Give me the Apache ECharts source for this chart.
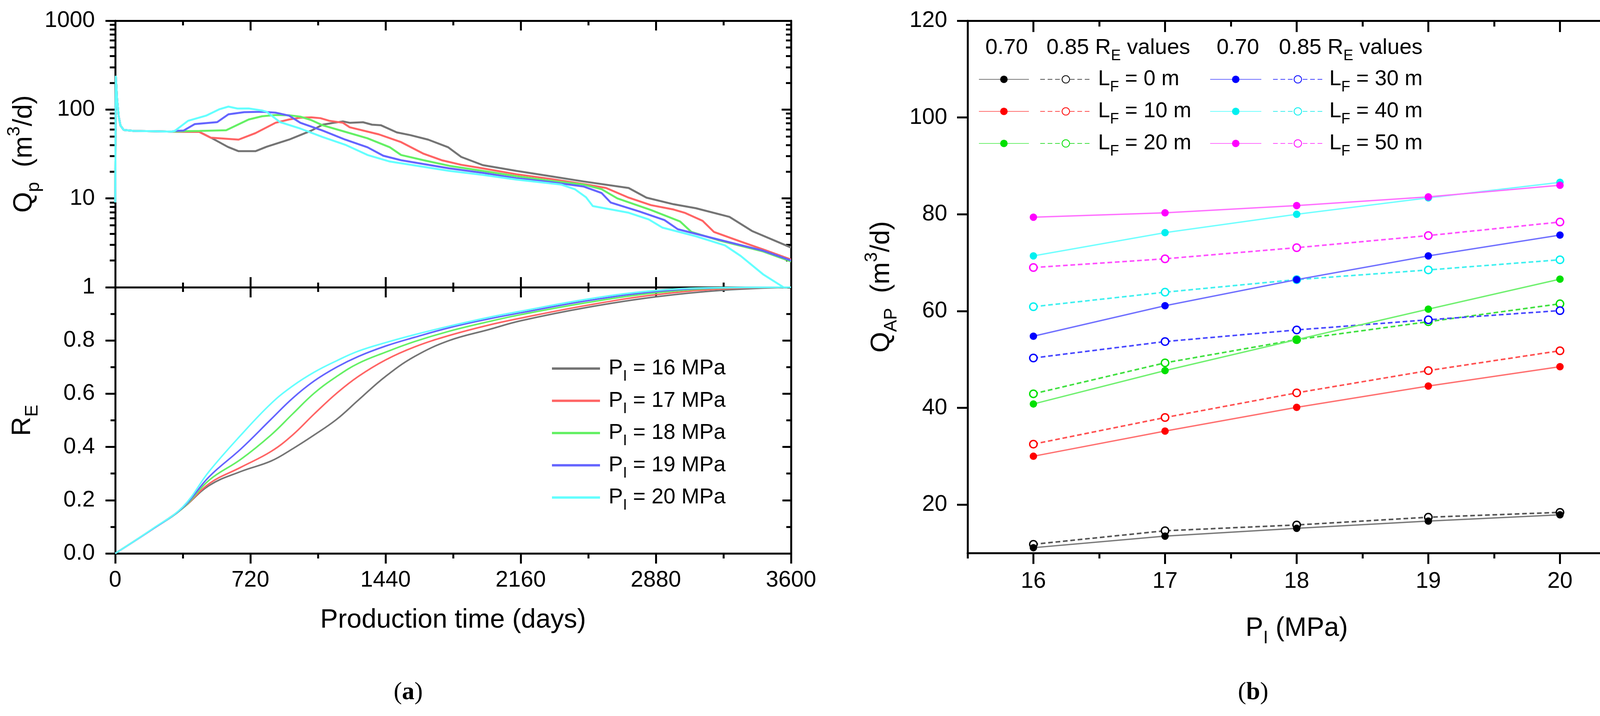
<!DOCTYPE html>
<html>
<head>
<meta charset="utf-8">
<title>Qp, RE and QAP vs PI</title>
<script src="https://cdn.jsdelivr.net/npm/echarts@6.0.0/dist/echarts.min.js"></script>
<style>
  html, body { margin: 0; padding: 0; background: #fff; }
  #main { width: 4199px; height: 1832px; }
</style>
</head>
<body>
<div id="main"></div>
<script>
// ---- data ----

// (a) top: production rate Qp (m3/d) vs time, [day, Qp]
var qpStart = [[0, 9], [3, 240], [10, 130], [18, 85], [28, 66], [45, 59], [100, 57.5], [200, 57], [300, 56.5]];
var qp16 = [[448, 56], [520, 47], [600, 38], [657, 34], [747, 34], [807, 38.2], [926, 45.9], [1045, 58], [1105, 67.6], [1165, 71], [1213, 73.5], [1249, 71], [1320, 72], [1368, 67.6], [1416, 66.5], [1500, 55.3], [1571, 51.6], [1667, 45.9], [1774, 37.6], [1843, 29.3], [1958, 23.7], [2137, 20.4], [2317, 17.8], [2496, 15.5], [2735, 13.1], [2830, 10.2], [2974, 8.6], [3093, 7.76], [3272, 6.2], [3392, 4.3], [3600, 2.8]];
var qp17 = [[448, 56], [508, 48.3], [657, 45.9], [747, 54.3], [854, 71], [926, 77.3], [986, 81], [1045, 81.8], [1093, 80], [1141, 74.7], [1213, 71], [1249, 63.2], [1404, 52.6], [1523, 43], [1643, 31.8], [1739, 26.9], [1843, 23.9], [1958, 21.8], [2137, 18.7], [2317, 16.6], [2496, 14.5], [2615, 13.1], [2735, 10.2], [2854, 8.4], [2974, 7.5], [3033, 6.9], [3129, 5.6], [3189, 4.2], [3332, 3.27], [3451, 2.67], [3600, 2.05]];
var qp18 = [[364, 57], [450, 57.5], [591, 58.5], [711, 77.3], [782, 84], [854, 86.9], [926, 86.3], [986, 83.2], [1045, 76], [1105, 66.5], [1225, 56.2], [1344, 47.5], [1463, 37.6], [1523, 30.8], [1643, 26.9], [1779, 23.3], [1958, 20.4], [2137, 17.8], [2317, 15.8], [2496, 14.3], [2591, 12.7], [2675, 10], [2854, 7.4], [3009, 5.5], [3069, 4.2], [3212, 3.39], [3451, 2.53], [3600, 1.95]];
var qp19 = [[317, 57.5], [364, 58], [424, 68.7], [543, 72.2], [603, 88.4], [687, 93.5], [782, 94.5], [854, 92.3], [926, 85.4], [986, 71], [1105, 58], [1225, 45.9], [1344, 37.6], [1428, 30.2], [1523, 26.9], [1779, 21.8], [1958, 19.4], [2137, 16.9], [2317, 15.3], [2496, 13.6], [2591, 11.5], [2639, 9.0], [2794, 7.1], [2926, 5.7], [2997, 4.5], [3212, 3.45], [3451, 2.58], [3600, 2.0]];
var qp20 = [[317, 57.5], [388, 74.7], [484, 85.4], [556, 101], [603, 108], [651, 102.7], [711, 103], [782, 97.7], [806, 94.5], [878, 72.2], [986, 61.1], [1105, 49.1], [1225, 40.2], [1344, 30.8], [1463, 26], [1779, 20.4], [1958, 18.4], [2137, 16.3], [2376, 14.3], [2448, 12.7], [2508, 10.3], [2544, 8.2], [2735, 6.9], [2842, 5.8], [2914, 4.7], [3093, 3.75], [3248, 2.96], [3332, 2.25], [3451, 1.4], [3560, 1.0], [3600, 0.9]];

// (a) bottom: recovery RE vs time
var reDays = [0, 200, 360, 500, 670, 830, 945, 1060, 1180, 1295, 1440, 1595, 1780, 1990, 2160, 2520, 2880, 3240, 3600];
var re16 = [0, 0.092, 0.17, 0.255, 0.308, 0.347, 0.393, 0.445, 0.504, 0.576, 0.665, 0.74, 0.80, 0.841, 0.874, 0.925, 0.964, 0.989, 1.0];
var re17 = [0, 0.092, 0.17, 0.262, 0.324, 0.383, 0.445, 0.524, 0.602, 0.665, 0.727, 0.776, 0.819, 0.858, 0.884, 0.933, 0.972, 0.994, 1.0];
var re18 = [0, 0.092, 0.17, 0.275, 0.354, 0.445, 0.524, 0.602, 0.665, 0.714, 0.756, 0.796, 0.835, 0.871, 0.897, 0.943, 0.979, 0.997, 1.0];
var re19 = [0, 0.092, 0.172, 0.288, 0.393, 0.504, 0.583, 0.648, 0.70, 0.74, 0.779, 0.812, 0.848, 0.881, 0.904, 0.95, 0.984, 0.998, 1.0];
var re20 = [0, 0.093, 0.175, 0.308, 0.445, 0.563, 0.629, 0.681, 0.724, 0.76, 0.792, 0.822, 0.854, 0.887, 0.91, 0.956, 0.988, 0.999, 1.0];

var pressures = ['16 MPa', '17 MPa', '18 MPa', '19 MPa', '20 MPa'];
var pColors = ['#747474', '#ff6464', '#64f064', '#6464ff', '#64ffff'];

// (b): QAP (m3/d) vs PI (MPa), RE = 0.70 (filled) and 0.85 (open)
var pI = [16, 17, 18, 19, 20];
var lf = ['0', '10', '20', '30', '40', '50'];
var q0_70 = [11.1, 13.5, 15.1, 16.6, 17.9];
var q0_85 = [11.8, 14.6, 15.8, 17.4, 18.4];
var q10_70 = [30.0, 35.2, 40.1, 44.5, 48.5];
var q10_85 = [32.5, 38.0, 43.1, 47.7, 51.8];
var q20_70 = [40.8, 47.7, 54.1, 60.4, 66.6];
var q20_85 = [42.9, 49.3, 54.1, 57.8, 61.5];
var q30_70 = [54.8, 61.1, 66.5, 71.4, 75.7];
var q30_85 = [50.3, 53.7, 56.1, 58.2, 60.1];
var q40_70 = [71.4, 76.2, 80.0, 83.4, 86.6];
var q40_85 = [60.9, 63.9, 66.5, 68.5, 70.6];
var q50_70 = [79.4, 80.3, 81.8, 83.6, 86.0];
var q50_85 = [69.0, 70.8, 73.1, 75.6, 78.4];
var markColors = ['#000000', '#ff0000', '#00e000', '#0000ff', '#00f0f0', '#ff00ff'];
var solidColors = ['#7a7a7a', '#ff7070', '#70f070', '#7070ff', '#70ffff', '#ff70ff'];
var dotColors = ['#555555', '#ff5050', '#40e040', '#4848ff', '#40f0f0', '#ff50ff'];

var xTicksB = [16, 17, 18, 19, 20];
var xHalfTicksB = [15.5, 16.5, 17.5, 18.5, 19.5, 20.5];
var yLabelsB = [20, 40, 60, 80, 100, 120];

window.onload = function() {
  var FONT = '"Liberation Sans", Arial, sans-serif';
  var SERIF = '"Liberation Serif", "Times New Roman", serif';

  var chart = echarts.init(document.getElementById('main'), null, { renderer: 'canvas' });

  var nameRich = {
    t: { fontFamily: FONT, fontSize: 68, lineHeight: 96, color: '#000' },
    s: { fontFamily: FONT, fontSize: 46, lineHeight: 46, verticalAlign: 'bottom', color: '#000' },
    u: { fontFamily: FONT, fontSize: 46, lineHeight: 46, verticalAlign: 'top', color: '#000' }
  };

  function line(show) {
    return { show: show, onZero: false, lineStyle: { color: '#000', width: 5 } };
  }
  function tick(len, inside, extra) {
    var t = { show: true, inside: inside, length: len, lineStyle: { color: '#000', width: 5 } };
    for (var k in extra) t[k] = extra[k];
    return t;
  }
  function minor(len) {
    return { show: true, splitNumber: 2, length: len, lineStyle: { color: '#000', width: 5 } };
  }
  function numLabel(margin, fmt) {
    return { fontFamily: FONT, fontSize: 58, color: '#000', margin: margin, formatter: fmt };
  }
  var noLabel = { show: false };
  var noSplit = { show: false };

  // log-spaced minor tick positions (decades 1-1000) for a helper linear axis
  var logMinor = [];
  for (var d = 0; d < 3; d++) {
    for (var k = 2; k <= 9; k++) logMinor.push(d + Math.log10(k));
  }
  var halfTop = [16.5, 17.5, 18.5, 19.5];

  var xAxis = [
    // grid 0 (Qp)
    { type: 'value', gridIndex: 0, position: 'bottom', min: 0, max: 3600, interval: 720,
      axisLine: line(true), axisLabel: noLabel, axisTick: tick(26, true), minorTick: minor(12), splitLine: noSplit },
    { type: 'value', gridIndex: 0, position: 'top', min: 0, max: 3600, interval: 720,
      axisLine: line(true), axisLabel: noLabel, axisTick: tick(25, true), minorTick: minor(12), splitLine: noSplit },
    // grid 1 (RE)
    { type: 'value', gridIndex: 1, position: 'bottom', min: 0, max: 3600, interval: 720,
      axisLine: line(true), axisTick: tick(26, false), minorTick: minor(13), splitLine: noSplit,
      axisLabel: numLabel(40, function(v) { return String(v); }),
      name: '{t|Production time (days)}', nameLocation: 'middle', nameGap: 123,
      nameTextStyle: { rich: nameRich } },
    { type: 'value', gridIndex: 1, position: 'top', min: 0, max: 3600, interval: 720,
      axisLine: line(true), axisLabel: noLabel, axisTick: tick(26, true), minorTick: minor(12), splitLine: noSplit },
    // grid 2 (QAP)
    { type: 'value', gridIndex: 2, position: 'bottom', min: 15.5, max: 20.5, interval: 0.5,
      axisLine: line(true), splitLine: noSplit,
      axisTick: tick(28, false, { customValues: xTicksB }),
      axisLabel: { fontFamily: FONT, fontSize: 58, color: '#000', margin: 44, customValues: xTicksB },
      name: '{t|P}{s|I}{t| (MPa)}', nameLocation: 'middle', nameGap: 145,
      nameTextStyle: { rich: nameRich } },
    { type: 'value', gridIndex: 2, position: 'bottom', min: 15.5, max: 20.5, interval: 0.5,
      axisLine: line(false), axisLabel: noLabel, splitLine: noSplit,
      axisTick: tick(14, false, { customValues: xHalfTicksB }) },
    { type: 'value', gridIndex: 2, position: 'top', min: 15.5, max: 20.5, interval: 0.5,
      axisLine: line(true), axisLabel: noLabel, splitLine: noSplit,
      axisTick: tick(29, true, { customValues: xTicksB }) },
    { type: 'value', gridIndex: 2, position: 'top', min: 15.5, max: 20.5, interval: 0.5,
      axisLine: line(false), axisLabel: noLabel, splitLine: noSplit,
      axisTick: tick(15, true, { customValues: halfTop }) }
  ];

  var yAxis = [
    // grid 0 (Qp, log)
    { type: 'log', gridIndex: 0, position: 'left', min: 1, max: 1000, logBase: 10,
      axisLine: line(true), axisTick: tick(25, false), splitLine: noSplit,
      axisLabel: numLabel(52, function(v) { return String(Math.round(v)); }),
      name: '{t|Q}{s|p}{t|  (m}{u|3}{t|/d)}', nameLocation: 'middle', nameRotate: 90, nameGap: 183,
      nameTextStyle: { rich: nameRich } },
    { type: 'value', gridIndex: 0, position: 'left', min: 0, max: 3,
      axisLine: line(false), axisLabel: noLabel, splitLine: noSplit,
      axisTick: tick(14, false, { customValues: logMinor }) },
    { type: 'log', gridIndex: 0, position: 'right', min: 1, max: 1000, logBase: 10,
      axisLine: line(true), axisLabel: noLabel, axisTick: tick(24, true), splitLine: noSplit },
    { type: 'value', gridIndex: 0, position: 'right', min: 0, max: 3,
      axisLine: line(false), axisLabel: noLabel, splitLine: noSplit,
      axisTick: tick(13, true, { customValues: logMinor }) },
    // grid 1 (RE)
    { type: 'value', gridIndex: 1, position: 'left', min: 0, max: 1, interval: 0.2,
      axisLine: line(true), axisTick: tick(25, false), minorTick: minor(12), splitLine: noSplit,
      axisLabel: numLabel(52, function(v) { return v >= 0.99 ? '' : v.toFixed(1); }),
      name: '{t|R}{s|E}', nameLocation: 'middle', nameRotate: 90, nameGap: 189,
      nameTextStyle: { rich: nameRich } },
    { type: 'value', gridIndex: 1, position: 'right', min: 0, max: 1, interval: 0.2,
      axisLine: line(true), axisLabel: noLabel, axisTick: tick(22, true), minorTick: minor(12), splitLine: noSplit },
    // grid 2 (QAP)
    { type: 'value', gridIndex: 2, position: 'left', min: 10, max: 120, interval: 10,
      axisLine: line(true), splitLine: noSplit,
      axisTick: tick(27, false, { customValues: yLabelsB }),
      axisLabel: { fontFamily: FONT, fontSize: 58, color: '#000', margin: 52, customValues: yLabelsB },
      name: '{t|Q}{s|AP}{t|  (m}{u|3}{t|/d)}', nameLocation: 'middle', nameRotate: 90, nameGap: 172,
      nameTextStyle: { rich: nameRich } },
    { type: 'value', gridIndex: 2, position: 'right', min: 10, max: 120, interval: 10,
      axisLine: line(true), axisLabel: noLabel, axisTick: tick(20, true), splitLine: noSplit }
  ];

  var series = [];
  var qpLists = [qp16, qp17, qp18, qp19, qp20];
  var reLists = [re16, re17, re18, re19, re20];

  for (var i = 0; i < pressures.length; i++) {
    series.push({
      name: pressures[i], type: 'line', xAxisIndex: 0, yAxisIndex: 0,
      data: qpStart.concat(qpLists[i]), showSymbol: false, symbol: 'none',
      lineStyle: { color: pColors[i], width: 5 }, itemStyle: { color: pColors[i] }, z: 2 + i
    });
  }
  for (var j = 0; j < pressures.length; j++) {
    var pts = reDays.map(function(day, n) { return [day, reLists[j][n]]; });
    series.push({
      name: pressures[j], type: 'line', xAxisIndex: 2, yAxisIndex: 4,
      data: pts, showSymbol: false, symbol: 'none', smooth: 0.4,
      lineStyle: { color: pColors[j], width: 4 }, itemStyle: { color: pColors[j] }, z: 2 + j
    });
  }

  var q70 = [q0_70, q10_70, q20_70, q30_70, q40_70, q50_70];
  var q85 = [q0_85, q10_85, q20_85, q30_85, q40_85, q50_85];
  function pairs(vals) {
    return pI.map(function(p, n) { return [p, vals[n]]; });
  }
  for (var m = 0; m < lf.length; m++) {
    series.push({
      name: lf[m] + '|0.85', type: 'line', xAxisIndex: 4, yAxisIndex: 6,
      data: pairs(q85[m]), symbol: 'circle', symbolSize: 19,
      lineStyle: { color: dotColors[m], width: 4, type: [12, 7] },
      itemStyle: { color: '#ffffff', borderColor: markColors[m], borderWidth: 3.5 }, z: 3
    });
    series.push({
      name: lf[m] + '|0.70', type: 'line', xAxisIndex: 4, yAxisIndex: 6,
      data: pairs(q70[m]), symbol: 'circle', symbolSize: 19,
      lineStyle: { color: solidColors[m], width: 3.5 },
      itemStyle: { color: markColors[m] }, z: 4
    });
  }

  var legText = {
    fontFamily: FONT, fontSize: 55, color: '#000', lineHeight: 80,
    rich: { s: { fontFamily: FONT, fontSize: 38, lineHeight: 38, verticalAlign: 'bottom', color: '#000' } }
  };
  function legTextPad(pad) {
    var t = {};
    for (var k in legText) t[k] = legText[k];
    t.padding = [0, 0, 0, pad];
    return t;
  }
  function lfName(n) { return 'L{s|F} = ' + n.split('|')[0] + ' m'; }
  function blank() { return ' '; }

  var legend = [
    { data: pressures, orient: 'vertical', left: 1413, top: 903, padding: 0, itemGap: 2.5,
      itemWidth: 123, itemHeight: 6, icon: 'rect', selectedMode: false,
      formatter: function(n) { return 'P{s|I} = ' + n; }, textStyle: legTextPad(17) },
    { data: ['0|0.70', '10|0.70', '20|0.70'], orient: 'vertical', left: 2505, top: 163, padding: 0, itemGap: 2,
      itemWidth: 128, itemHeight: 24, selectedMode: false, formatter: blank, textStyle: legTextPad(0) },
    { data: ['0|0.85', '10|0.85', '20|0.85'], orient: 'vertical', left: 2662, top: 163, padding: 0, itemGap: 2,
      itemWidth: 131, itemHeight: 24, selectedMode: false, formatter: lfName, textStyle: legTextPad(12) },
    { data: ['30|0.70', '40|0.70', '50|0.70'], orient: 'vertical', left: 3097, top: 163, padding: 0, itemGap: 2,
      itemWidth: 131, itemHeight: 24, selectedMode: false, formatter: blank, textStyle: legTextPad(0) },
    { data: ['30|0.85', '40|0.85', '50|0.85'], orient: 'vertical', left: 3258, top: 163, padding: 0, itemGap: 2,
      itemWidth: 127, itemHeight: 24, selectedMode: false, formatter: lfName, textStyle: legTextPad(12) }
  ];

  var headRich = { s: { fontFamily: FONT, fontSize: 38, lineHeight: 38, verticalAlign: 'bottom', fill: '#000' } };
  function headText(x, txt, align) {
    return {
      type: 'text', x: x, y: 123, z: 10,
      style: { text: txt, fontFamily: FONT, fontSize: 56, lineHeight: 80, fill: '#000',
        align: align, verticalAlign: 'middle', rich: headRich }
    };
  }
  var tagRich = { b: { fontFamily: SERIF, fontSize: 64, fontWeight: 'bold', fill: '#000' } };
  function tag(x, letter) {
    return {
      type: 'text', x: x, y: 1772, z: 10,
      style: { text: '({b|' + letter + '})', fontFamily: SERIF, fontSize: 64, fill: '#000',
        align: 'center', verticalAlign: 'middle', rich: tagRich }
    };
  }

  var option = {
    animation: false,
    backgroundColor: '#ffffff',
    textStyle: { fontFamily: FONT },
    grid: [
      { left: 295, top: 53, width: 1730, height: 682, containLabel: false, outerBoundsMode: 'none' },
      { left: 295, top: 735, width: 1730, height: 681, containLabel: false, outerBoundsMode: 'none' },
      { left: 2477, top: 53, width: 1685, height: 1362, containLabel: false, outerBoundsMode: 'none' }
    ],
    xAxis: xAxis,
    yAxis: yAxis,
    legend: legend,
    graphic: [
      headText(2577, '0.70', 'center'),
      headText(2679, '0.85 R{s|E} values', 'left'),
      headText(3169, '0.70', 'center'),
      headText(3274, '0.85 R{s|E} values', 'left'),
      tag(1045, 'a'),
      tag(3208, 'b')
    ],
    series: series
  };
  option && chart.setOption(option);
};
</script>
</body>
</html>
